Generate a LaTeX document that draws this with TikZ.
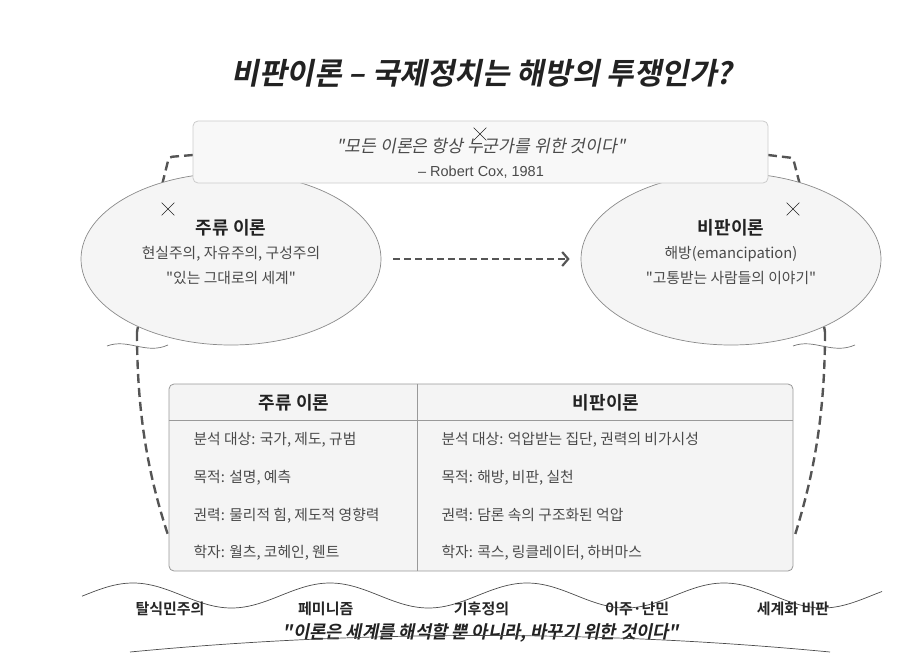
\documentclass[tikz,border=0pt]{standalone}
\usepackage{fontspec}
\setmainfont{Noto Sans CJK KR}[
  Ligatures=TeXOff,
  BoldFont={Noto Sans CJK KR Bold},
  ItalicFont={Noto Sans CJK KR},
  ItalicFeatures={FakeSlant=0.2},
  BoldItalicFont={Noto Sans CJK KR Bold},
  BoldItalicFeatures={FakeSlant=0.2}]
\newfontfamily\latinfont{Liberation Sans}
\usetikzlibrary{arrows.meta,shapes.geometric,shapes.misc}
\newcommand{\WY}{595.5}
\newcommand{\WA}{12.5}
\newcommand{\WP}{197}
\newcommand{\RH}{37.7}
\definecolor{ctink}{HTML}{222222}
\definecolor{ctbody}{HTML}{4A4A4A}
\definecolor{ctdash}{HTML}{555555}
\definecolor{ctedge}{HTML}{8A8A8A}
\definecolor{ctfill}{HTML}{F5F5F5}
\definecolor{ctquote}{HTML}{F8F8F8}
\definecolor{ctqedge}{HTML}{CCCCCC}
\definecolor{cttab}{HTML}{F4F4F4}
\definecolor{cttedge}{HTML}{999999}

\begin{document}
\begin{tikzpicture}[
    x=1pt, y=-1pt,
    >={Straight Barb[length=6pt,width=14pt,line width=2.2pt]},
    link/.style={draw=ctdash, line width=2.4pt, dash pattern=on 9pt off 5pt, rounded corners=3pt},
    flow/.style={->, draw=ctdash, line width=2.2pt, dash pattern=on 7pt off 4pt},
    camp/.style={ellipse, draw=ctedge, fill=ctfill, line width=0.7pt, minimum width=300pt, minimum height=172pt, inner sep=0pt},
    qbox/.style={rectangle, draw=ctqedge, fill=ctquote, line width=0.8pt, rounded corners=5pt, minimum width=575pt, minimum height=62pt},
    tbox/.style={rectangle, draw=cttedge, fill=cttab, line width=0.8pt, rounded corners=5pt, minimum width=624pt, minimum height=187pt},
    rule/.style={draw=cttedge, line width=0.8pt},
    wave/.style={draw=black!70, line width=0.7pt},
    xmark/.style={cross out, draw=ctink, line width=0.6pt, minimum size=12pt, inner sep=0pt},
    title/.style={font=\fontsize{30}{34}\selectfont\bfseries\itshape, text=ctink},
    head/.style={font=\fontsize{18}{21}\selectfont\bfseries, text=ctink},
    body/.style={font=\fontsize{14.8}{17}\selectfont, text=ctbody},
    cite/.style={font=\fontsize{17.2}{20}\selectfont\itshape, text=ctbody},
    wtag/.style={font=\fontsize{15}{18}\selectfont\bfseries, text=black!85},
  ]
  \useasboundingbox (0,0) rectangle (922,669);

  \node[title] (ttl) at (482,73) {비판이론 – 국제정치는 해방의 투쟁인가?};

  %% ================= the two camps =================
  % dashed links run from the quote down to the table, behind the ellipses
  \coordinate (lkA) at (169,157);
  \coordinate (lkB) at (162,185);
  \coordinate (lkC) at (137,332);
  \coordinate (lkD) at (168,535);
  \coordinate (rkA) at (793,158);
  \coordinate (rkB) at (800,185);
  \coordinate (rkC) at (825,332);
  \coordinate (rkD) at (795,535);
  \draw[link] (193,155) -- (lkA) -- (lkB) -- (lkC);
  \draw[link] (lkC) .. controls (137,420) and (150,480) .. (lkD);
  \draw[link] (768,155) -- (rkA) -- (rkB) -- (rkC);
  \draw[link] (rkC) .. controls (825,420) and (812,480) .. (rkD);

  \node[camp] (main) at (231,259) {};
  \node[camp] (crit) at (731,259) {};

  \draw[flow, shorten <=12pt, shorten >=11pt] (main) -- (crit);

  \node[head] (mainT) at (231,228) {주류 이론};
  \node[body] (mainA) at (231,254) {현실주의, 자유주의, 구성주의};
  \node[body] (mainB) at (231,278) {"있는 그대로의 세계"};

  \node[head] (critT) at (731,228) {비판이론};
  \node[body] (critA) at (731,254) {해방(emancipation)};
  \node[body] (critB) at (731,278) {"고통받는 사람들의 이야기"};

  % small break marks across the links
  \draw[wave, black!55] (107,346) .. controls (128,338) and (146,355) .. (168,345);
  \draw[wave, black!55] (793,346) .. controls (814,338) and (832,355) .. (855,345);

  %% ================= the quote =================
  \node[qbox] (quote) at (480.5,152) {};
  \node[cite] (qline) at (481,146) {"모든 이론은 항상 누군가를 위한 것이다"};
  \node[body, font=\latinfont\fontsize{14.5}{17}\selectfont] (qsrc) at (481,172) {– Robert Cox, 1981};

  \foreach \p/\n in {{(480,134)}/xq,{(168,209)}/xl,{(793,209)}/xr}
    \node[xmark] (\n) at \p {};

  %% ================= comparison table =================
  \node[tbox] (table) at (481,477.5) {};
  \draw[rule] ([yshift=-37pt]table.north west) -- ([yshift=-37pt]table.north east);
  \draw[rule] ([xshift=249pt]table.north west) -- ([xshift=249pt]table.south west);

  \node[head] (colL) at (294,403) {주류 이론};
  \node[head] (colR) at (606,403) {비판이론};

  \foreach \k/\l/\r in {
      0/{분석 대상: 국가, 제도, 규범}/{분석 대상: 억압받는 집단, 권력의 비가시성},
      1/{목적: 설명, 예측}/{목적: 해방, 비판, 실천},
      2/{권력: 물리적 힘, 제도적 영향력}/{권력: 담론 속의 구조화된 억압},
      3/{학자: 월츠, 코헤인, 웬트}/{학자: 콕스, 링클레이터, 하버마스}} {
    \node[body, anchor=west] (rowL\k) at (190,{440+\RH*\k}) {\l};
    \node[body, anchor=west] (rowR\k) at (438,{440+\RH*\k}) {\r};
  }

  %% ================= the wave of struggles =================
  \draw[wave] plot[domain=82:882, samples=161, smooth] (\x,{\WY-\WA*cos((\x-133)/\WP*360)});

  \foreach \n/\t in {0/탈식민주의,1/페미니즘,2/기후정의,3/이주·난민,4/세계화 비판}
    \node[wtag] (tag\n) at ({170+155.75*\n},609) {\t};

  \node[cite, font=\fontsize{17.7}{21}\selectfont\bfseries\itshape, text=ctink] (motto) at (481,633)
    {"이론은 세계를 해석할 뿐 아니라, 바꾸기 위한 것이다"};
  \draw[wave] (130,652) .. controls (360,630) and (600,630) .. (830,652);

\end{tikzpicture}
\end{document}
